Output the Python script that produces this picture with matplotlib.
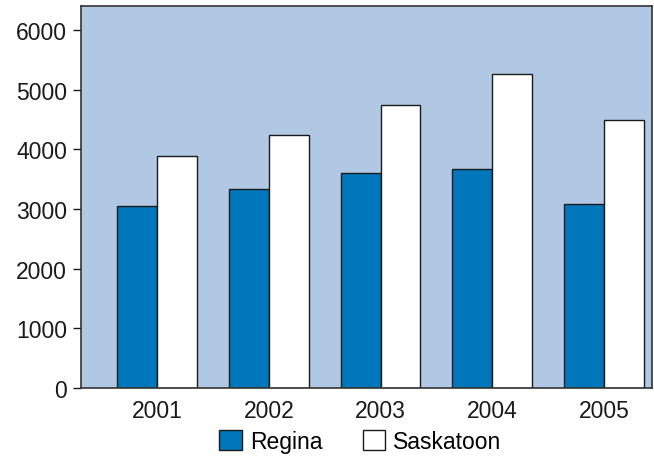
import matplotlib
matplotlib.use('Agg')
import matplotlib.pyplot as plt
import numpy as np

plt.rcParams['font.family'] = ['Liberation Sans', 'DejaVu Sans']

years = ['2001', '2002', '2003', '2004', '2005']
regina = [3050, 3335, 3600, 3670, 3080]
saskatoon = [3890, 4240, 4740, 5260, 4490]
yticks = [0, 1000, 2000, 3000, 4000, 5000, 6000]

fig = plt.figure(figsize=(6.54, 4.60), dpi=100)
ax = fig.add_axes([0.124, 0.154, 0.873, 0.831])
ax.set_facecolor('#b1c8e4')

x = np.arange(len(years))
w = 0.357
ax.bar(x - w / 2, regina, w, color='#0077bb', edgecolor='#1a1a1a', linewidth=1, label='Regina')
ax.bar(x + w / 2, saskatoon, w, color='white', edgecolor='#1a1a1a', linewidth=1, label='Saskatoon')

ax.set_xlim(-0.68, 4.43)
ax.set_ylim(0, 6400)
ax.set_xticks(x)
ax.set_xticklabels(years)
ax.set_yticks(yticks)
ax.tick_params(axis='x', length=0, labelsize=16.5, pad=8, colors='#1a1a1a')
ax.tick_params(axis='y', length=6, width=1, labelsize=16.5, pad=4, colors='#1a1a1a')
for s in ax.spines.values():
    s.set_color('#333333')
    s.set_linewidth(1.2)

fig.legend(loc='center', bbox_to_anchor=(0.551, 0.038), ncol=2, frameon=False,
           fontsize=16.5, handlelength=1.0, handleheight=0.95, handletextpad=0.35,
           columnspacing=1.75, borderpad=0.1)

plt.savefig('out.png', dpi=100)
plt.close()
